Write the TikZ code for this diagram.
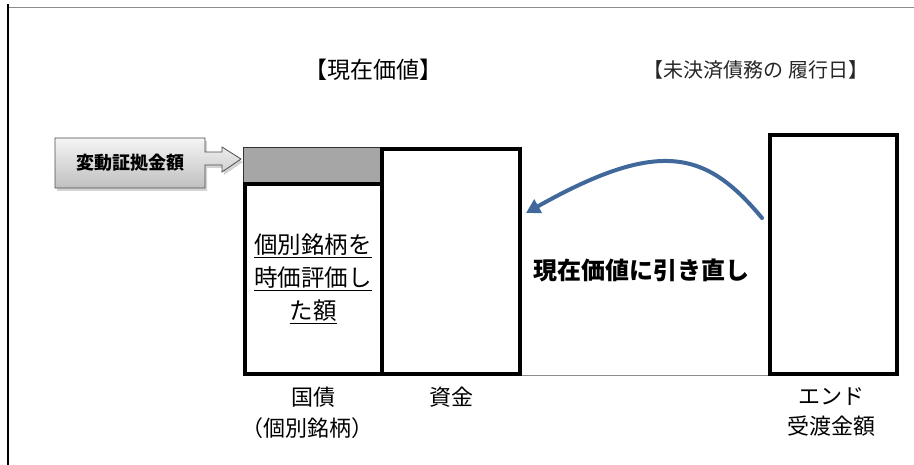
\documentclass[tikz,border=0pt]{standalone}
\usepackage{fontspec}
\setmainfont{Noto Sans CJK JP}
\usetikzlibrary{positioning,calc,arrows.meta,shadows}

\definecolor{curveblue}{HTML}{41689A}
\definecolor{bargray}{HTML}{A6A6A6}
\definecolor{framegray}{HTML}{8C8C8C}

\tikzset{
	bigbox/.style={draw=black, line width=4pt, fill=white, inner sep=0pt, anchor=north west},
	marginbar/.style={draw=black!80, line width=1pt, fill=bargray, inner sep=0pt, anchor=north west},
	caption/.style={font=\fontsize{22}{26}\selectfont, inner sep=0pt},
}

\begin{document}
	\begin{tikzpicture}[x=1pt,y=-1pt]
		\useasboundingbox (0,0) rectangle (914,465);
		% frame
		\draw[framegray, line width=1pt] (8,8) -- (914,8);
		\draw[black, line width=1.5pt] (8,4) -- (8,465);
		%
		\node[caption, font=\fontsize{23}{26}\selectfont] (title) at (373,70) {【現在価値】};
		\node[caption, font=\fontsize{20}{22}\selectfont, text=black!85] (enddate) at (756,70) {【未決済債務の 履行日】};
		%
		\node[marginbar, minimum width=137pt, minimum height=35pt] (graybox) at (243,147) {};
		\node[bigbox, minimum width=137pt, minimum height=190pt] (bondbox) at (243,182) {};
		\node[bigbox, minimum width=138pt, minimum height=225pt] (cashbox) at (380,147) {};
		\node[bigbox, minimum width=127pt, minimum height=239pt] (endbox) at (768,133) {};
		\node[caption, align=center, font=\fontsize{23.5}{33}\selectfont] (bondtext) at (313,279)
			{\underline{個別銘柄を}\\\underline{時価評価し}\\\underline{た額}};
		%
		\node[caption, below=11pt of bondbox] (kokusai) {国債};
		\node[caption, below=10pt of kokusai, xshift=-6pt] (meigara) {（個別銘柄）};
		\node[caption, below=11pt of cashbox] (shikin) {資金};
		\node[caption, below=11pt of endbox, xshift=-2pt] (endlbl) {エンド};
		\node[caption, below=10pt of endlbl] (ukewatashi) {受渡金額};
		%
		\draw[framegray, line width=1pt] (cashbox.south east) -- (endbox.south west);
		%
		\node[caption, font=\bfseries\fontsize{24}{26}\selectfont] (pvtext) at (641,270) {現在価値に引き直し};
		%
		\coordinate (pvstart) at ($(endbox.north west)+(-6,85)$);
		\coordinate (pvend) at ($(cashbox.north east)+(4,66)$);
		\draw[curveblue, line width=4pt, line cap=round, -{Triangle[length=14pt,width=15pt]}]
			(pvstart) .. controls (707,152) and (661,137) .. (pvend);
		%
		\path[draw=black!70, line width=0.8pt, top color=gray!8, bottom color=gray!50,
			drop shadow={shadow xshift=2pt, shadow yshift=-3pt, opacity=0.35}]
			(55,138) -- (205,138) -- (205,152) -- (222,152) -- (222,147) -- (241,159)
			-- (222,172) -- (222,165) -- (205,165) -- (205,188) -- (55,188) -- cycle;
		\node[caption, font=\bfseries\fontsize{18}{20}\selectfont] (vmtext) at (130,163) {変動証拠金額};
	\end{tikzpicture}
\end{document}
